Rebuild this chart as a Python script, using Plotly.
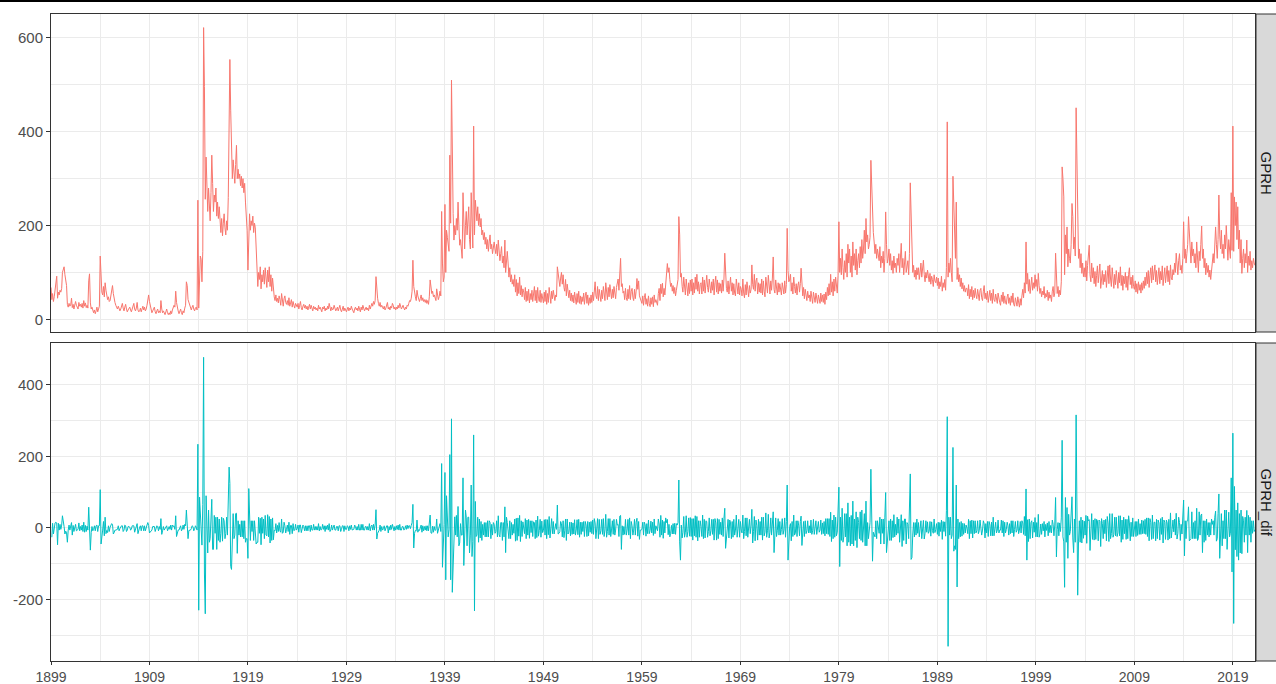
import pandas as pd
import numpy as np
import plotly.graph_objects as go
from plotly.subplots import make_subplots

# Monthly GPRH values, Jan 1899 onward
gprh_values = [
    68, 42, 55, 38, 48, 62, 78, 92, 45, 58, 52, 62,        # 1899
    58, 66, 100, 108, 112, 95, 86, 72, 32, 26, 34, 28,     # 1900
    30, 45, 25, 32, 22, 28, 38, 30, 26, 22, 36, 28,        # 1901
    32, 26, 34, 24, 40, 28, 35, 25, 30, 24, 82, 97,        # 1902
    35, 22, 26, 18, 14, 20, 12, 18, 26, 16, 22, 28,        # 1903
    135, 90, 58, 52, 70, 48, 78, 62, 55, 42, 48, 38,       # 1904
    40, 50, 62, 72, 55, 42, 36, 30, 26, 22, 28, 20,        # 1905
    18, 22, 28, 34, 24, 18, 26, 32, 22, 16, 20, 24,        # 1906
    26, 20, 16, 22, 28, 34, 22, 18, 24, 36, 20, 16,        # 1907
    18, 24, 16, 22, 28, 20, 26, 18, 22, 30, 45, 52,        # 1908
    38, 28, 20, 14, 18, 22, 26, 16, 12, 18, 22, 14,        # 1909
    18, 14, 40, 22, 14, 18, 12, 10, 16, 22, 14, 10,        # 1910
    14, 10, 18, 12, 20, 24, 30, 26, 60, 36, 24, 18,        # 1911
    12, 16, 22, 14, 10, 18, 14, 24, 30, 80, 72, 42,        # 1912
    35, 28, 22, 20, 26, 30, 22, 18, 24, 26, 20, 254,       # 1913
    24, 110, 135, 128, 80, 145, 622, 496, 256, 346, 300, 230,  # 1914
    280, 240, 210, 270, 350, 290, 230, 265, 250, 280, 220, 250,  # 1915
    215, 240, 200, 185, 215, 178, 205, 225, 195, 180, 210, 190,  # 1916
    260, 430, 554, 446, 330, 300, 340, 310, 290, 330, 371, 300,  # 1917
    320, 300, 310, 285, 305, 280, 300, 270, 290, 250, 220, 190,  # 1918
    105, 215, 225, 190, 210, 200, 220, 185, 205, 195, 150, 110,  # 1919
    70, 100, 85, 112, 65, 95, 80, 105, 75, 110, 90, 68,    # 1920
    105, 80, 112, 70, 95, 60, 88, 55, 48, 40, 52, 38,      # 1921
    45, 35, 50, 42, 30, 55, 40, 28, 44, 50, 36, 32,        # 1922
    40, 30, 46, 28, 35, 42, 26, 38, 30, 24, 34, 28,        # 1923
    26, 34, 22, 30, 38, 25, 20, 28, 32, 24, 30, 22,        # 1924
    28, 20, 26, 32, 22, 30, 24, 18, 28, 22, 26, 20,        # 1925
    24, 18, 30, 22, 26, 20, 16, 26, 22, 28, 18, 24,        # 1926
    20, 28, 22, 34, 24, 18, 26, 20, 22, 30, 24, 18,        # 1927
    22, 26, 18, 24, 30, 20, 16, 22, 28, 18, 24, 20,        # 1928
    16, 22, 26, 18, 24, 20, 28, 22, 18, 14, 22, 26,        # 1929
    20, 24, 18, 28, 22, 16, 26, 20, 30, 24, 18, 22,        # 1930
    26, 20, 24, 18, 30, 22, 26, 34, 28, 38, 32, 40,        # 1931
    91, 60, 45, 34, 28, 36, 26, 30, 24, 22, 28, 20,        # 1932
    24, 30, 36, 22, 26, 20, 28, 24, 34, 30, 22, 26,        # 1933
    20, 26, 22, 30, 24, 34, 28, 22, 26, 30, 24, 20,        # 1934
    26, 22, 30, 28, 34, 40, 38, 45, 60, 126, 70, 55,       # 1935
    48, 40, 62, 50, 45, 38, 44, 52, 40, 46, 38, 42,        # 1936
    36, 42, 34, 40, 32, 48, 84, 70, 55, 60, 48, 52,        # 1937
    45, 40, 65, 50, 42, 48, 60, 50, 230, 120, 80, 90,      # 1938
    245, 100, 190, 175, 150, 145, 350, 205, 510, 330, 226, 169,  # 1939
    200, 180, 215, 190, 250, 200, 158, 170, 150, 130, 270, 165,  # 1940
    150, 200, 230, 180, 210, 240, 170, 150, 270, 190, 152, 412,  # 1941
    180, 254, 230, 210, 240, 200, 225, 197, 215, 180, 190, 170,  # 1942
    185, 160, 175, 150, 170, 145, 165, 180, 150, 160, 140, 155,  # 1943
    165, 150, 140, 160, 135, 169, 150, 125, 140, 155, 120, 135,  # 1944
    110, 169, 100, 130, 145, 120, 90, 110, 80, 95, 75, 85,       # 1945
    70, 95, 58, 85, 50, 78, 55, 90, 52, 72, 48, 65,        # 1946
    58, 42, 68, 38, 60, 40, 64, 35, 55, 42, 62, 38,        # 1947
    55, 70, 40, 62, 35, 68, 45, 38, 62, 36, 55, 42,        # 1948
    35, 58, 38, 62, 32, 55, 36, 68, 40, 34, 60, 44,        # 1949
    62, 45, 40, 52, 48, 112, 95, 80, 70, 88, 100, 75,      # 1950
    95, 68, 60, 85, 50, 75, 58, 46, 62, 40, 56, 38,        # 1951
    52, 35, 58, 38, 32, 55, 36, 60, 34, 50, 32, 48,        # 1952
    38, 56, 32, 50, 58, 34, 52, 30, 46, 34, 52, 36,        # 1953
    58, 40, 66, 80, 50, 44, 70, 40, 64, 46, 38, 62,        # 1954
    44, 70, 46, 40, 78, 52, 42, 68, 48, 74, 50, 44,        # 1955
    64, 46, 70, 50, 44, 68, 76, 86, 62, 95, 130, 70,       # 1956
    76, 56, 60, 42, 66, 46, 40, 64, 44, 72, 42, 60,        # 1957
    66, 46, 40, 64, 44, 60, 87, 64, 82, 50, 44, 38,        # 1958
    34, 50, 30, 46, 55, 32, 44, 28, 50, 34, 27, 46,        # 1959
    32, 48, 27, 52, 36, 42, 38, 30, 55, 66, 40, 75,        # 1960
    55, 77, 48, 66, 52, 80, 95, 119, 100, 110, 85, 70,     # 1961
    77, 60, 72, 55, 68, 50, 62, 70, 85, 219, 180, 90,      # 1962
    98, 70, 58, 90, 64, 52, 86, 60, 50, 78, 55, 84,        # 1963
    60, 86, 52, 78, 56, 90, 64, 96, 60, 80, 54, 74,        # 1964
    78, 54, 90, 60, 84, 56, 76, 94, 68, 58, 86, 64,        # 1965
    56, 80, 62, 86, 52, 78, 92, 58, 84, 54, 78, 60,        # 1966
    76, 56, 84, 60, 86, 141, 84, 66, 58, 82, 54, 76,       # 1967
    90, 60, 78, 52, 76, 56, 50, 86, 60, 54, 78, 52,        # 1968
    70, 64, 50, 86, 56, 46, 74, 52, 80, 54, 48, 72,        # 1969
    56, 64, 116, 74, 64, 96, 60, 82, 88, 54, 78, 58,       # 1970
    76, 56, 86, 52, 82, 60, 48, 90, 64, 56, 94, 66,        # 1971
    54, 82, 62, 88, 133, 64, 56, 84, 60, 52, 78, 58,       # 1972
    76, 56, 52, 78, 60, 54, 82, 56, 74, 194, 104, 80,      # 1973
    84, 96, 60, 78, 54, 90, 70, 56, 76, 52, 72, 80,        # 1974
    58, 76, 109, 60, 50, 68, 44, 64, 48, 40, 60, 46,       # 1975
    52, 38, 60, 42, 34, 58, 40, 36, 56, 38, 34, 52,        # 1976
    40, 34, 56, 38, 52, 36, 54, 32, 58, 42, 68, 50,        # 1977
    76, 52, 96, 58, 80, 50, 86, 60, 90, 68, 56, 94,        # 1978
    208, 100, 130, 95, 150, 110, 85, 125, 100, 140, 90, 160,   # 1979
    120, 150, 100, 135, 90, 165, 115, 140, 105, 150, 95, 125,  # 1980
    140, 110, 155, 120, 170, 130, 150, 190, 140, 215, 165, 180,  # 1981
    150, 160, 175, 339, 290, 197, 185, 165, 140, 160, 130, 150,  # 1982
    140, 125, 155, 110, 135, 120, 145, 100, 130, 229, 160, 120,  # 1983
    130, 150, 115, 140, 105, 125, 98, 135, 110, 120, 100, 130,   # 1984
    115, 140, 100, 125, 162, 110, 130, 95, 120, 145, 100, 115,   # 1985
    125, 95, 140, 291, 203, 120, 100, 115, 90, 105, 85, 110,     # 1986
    95, 110, 85, 100, 120, 90, 105, 126, 95, 80, 100, 88,        # 1987
    105, 90, 80, 98, 75, 92, 85, 70, 95, 82, 78, 90,       # 1988
    72, 88, 65, 80, 70, 92, 60, 78, 68, 85, 62, 110,       # 1989
    421, 90, 120, 100, 130, 100, 80, 305, 240, 190, 130, 250,  # 1990
    85, 110, 80, 95, 70, 88, 65, 78, 60, 72, 58, 66,       # 1991
    66, 50, 74, 44, 64, 48, 70, 42, 62, 46, 66, 52,        # 1992
    44, 64, 48, 40, 62, 66, 46, 40, 60, 72, 44, 56,        # 1993
    42, 60, 36, 54, 62, 40, 56, 34, 64, 42, 38, 54,        # 1994
    40, 34, 56, 42, 36, 30, 52, 38, 58, 34, 50, 36,        # 1995
    32, 48, 54, 34, 46, 30, 50, 36, 56, 32, 28, 46,        # 1996
    34, 28, 48, 32, 26, 44, 30, 50, 64, 46, 78, 56,        # 1997
    165, 75, 98, 60, 85, 55, 70, 90, 62, 78, 66, 95,       # 1998
    70, 85, 60, 98, 72, 55, 66, 48, 60, 52, 70, 45,        # 1999
    55, 48, 62, 40, 58, 45, 52, 38, 60, 70, 48, 56,        # 2000
    141, 60, 55, 70, 48, 62, 52, 80, 325, 300, 261, 95,    # 2001
    180, 140, 197, 112, 150, 130, 120, 160, 247, 219, 150, 175,  # 2002
    135, 451, 357, 169, 130, 150, 110, 140, 98, 120, 91, 110,    # 2003
    90, 125, 82, 115, 135, 158, 95, 80, 120, 88, 110, 76,    # 2004
    102, 70, 94, 114, 78, 100, 118, 66, 92, 104, 74, 96,     # 2005
    80, 104, 68, 100, 114, 76, 116, 86, 70, 110, 84, 66,     # 2006
    96, 74, 104, 80, 66, 100, 78, 112, 72, 94, 62, 92,       # 2007
    76, 100, 68, 92, 62, 96, 110, 74, 90, 66, 94, 70,        # 2008
    64, 82, 58, 76, 55, 80, 62, 74, 56, 78, 62, 82,          # 2009
    66, 90, 72, 100, 76, 104, 68, 94, 110, 78, 114, 84,      # 2010
    100, 116, 80, 104, 74, 96, 110, 76, 102, 84, 114, 72,    # 2011
    94, 110, 78, 100, 114, 80, 104, 74, 116, 88, 84, 106,    # 2012
    95, 120, 100, 141, 110, 95, 125, 140, 105, 115, 98, 130, # 2013
    208, 130, 150, 120, 140, 160, 219, 183, 150, 120, 165, 135,  # 2014
    150, 120, 140, 110, 165, 130, 100, 145, 125, 160, 199, 130,  # 2015
    150, 110, 130, 95, 120, 100, 115, 90, 105, 85, 110, 120,     # 2016
    140, 120, 150, 197, 160, 130, 170, 265, 180, 150, 190, 140,  # 2017
    160, 130, 180, 150, 200, 140, 126, 170, 145, 130, 270, 147,  # 2018
    412, 145, 261, 200, 250, 170, 240, 150, 190, 120, 170, 98,   # 2019
    130, 150, 110, 140, 120, 169, 100, 135, 115, 145, 105, 125,  # 2020
    110, 130, 120, 115,                                          # 2021
]

start_month = "1899-01-01"
dates = pd.date_range(start_month, periods=len(gprh_values), freq="MS")

# first difference (GPRH_dif)
gprh_dif = [None] + list(np.diff(np.array(gprh_values, dtype=float)))

panel_labels = ["GPRH", "GPRH_dif"]
x_tick_dates = ["1899-01-01", "1909-01-01", "1919-01-01", "1929-01-01", "1939-01-01",
                "1949-01-01", "1959-01-01", "1969-01-01", "1979-01-01", "1989-01-01",
                "1999-01-01", "2009-01-01", "2019-01-01"]
x_tick_labels = ["1899", "1909", "1919", "1929", "1939", "1949", "1959",
                 "1969", "1979", "1989", "1999", "2009", "2019"]
x_minor_dates = ["1904-01-01", "1914-01-01", "1924-01-01", "1934-01-01", "1944-01-01",
                 "1954-01-01", "1964-01-01", "1974-01-01", "1984-01-01", "1994-01-01",
                 "2004-01-01", "2014-01-01"]
top_y_ticks = [0, 200, 400, 600]
top_y_labels = ["0", "200", "400", "600"]
top_y_minor = [100, 300, 500]
bot_y_ticks = [-200, 0, 200, 400]
bot_y_labels = ["-200", "0", "200", "400"]
bot_y_minor = [-300, -100, 100, 300]

W, H = 1276, 684
ML, MR, MT, MB = 51, 21, 14, 23
plot_h = H - MT - MB
gap = 11

fig = make_subplots(rows=2, cols=1, shared_xaxes=True, vertical_spacing=gap / plot_h)

fig.add_trace(go.Scatter(x=dates, y=gprh_values, mode="lines",
                         line=dict(color="#F8766D", width=1), showlegend=False,
                         hoverinfo="x+y"), row=1, col=1)
fig.add_trace(go.Scatter(x=dates, y=gprh_dif, mode="lines",
                         line=dict(color="#00BFC4", width=1), showlegend=False,
                         hoverinfo="x+y"), row=2, col=1)

font_family = "Liberation Sans, Arial, sans-serif"
grid_col = "#EBEBEB"
border_col = "#333333"
tick_font = dict(family=font_family, size=15, color="#4D4D4D")
x_tick_font = dict(family=font_family, size=14, color="#4D4D4D")

common_x = dict(range=[dates[0], dates[-1]], showgrid=True, gridcolor=grid_col, gridwidth=1,
                tickmode="array", tickvals=x_tick_dates, ticktext=x_tick_labels,
                showline=True, mirror=True, linecolor=border_col, linewidth=1,
                zeroline=False, automargin=False,
                minor=dict(tickvals=x_minor_dates, showgrid=True, gridcolor=grid_col, gridwidth=1))
fig.update_xaxes(**common_x)
fig.update_xaxes(showticklabels=False, ticks="", row=1, col=1)
fig.update_xaxes(ticks="outside", ticklen=3, tickwidth=1, tickcolor=border_col,
                 tickfont=x_tick_font, row=2, col=1)

common_y = dict(showgrid=True, gridcolor=grid_col, gridwidth=1, zeroline=False,
                showline=True, mirror=True, linecolor=border_col, linewidth=1,
                ticks="outside", ticklen=4, tickwidth=1, tickcolor=border_col,
                tickfont=tick_font, automargin=False)
fig.update_yaxes(**common_y)
fig.update_yaxes(range=[-27, 651], tickmode="array", tickvals=top_y_ticks, ticktext=top_y_labels,
                 minor=dict(tickvals=top_y_minor, showgrid=True, gridcolor=grid_col, gridwidth=1),
                 row=1, col=1)
fig.update_yaxes(range=[-372, 517], tickmode="array", tickvals=bot_y_ticks, ticktext=bot_y_labels,
                 minor=dict(tickvals=bot_y_minor, showgrid=True, gridcolor=grid_col, gridwidth=1),
                 row=2, col=1)

plot_w = W - ML - MR
strip_x0 = 1 + 1 / plot_w
strip_x1 = 1 + (MR + 2) / plot_w
top_dom = fig.layout.yaxis.domain
bot_dom = fig.layout.yaxis2.domain
for dom, label in zip([top_dom, bot_dom], panel_labels):
    fig.add_shape(type="rect", xref="paper", yref="paper",
                  x0=strip_x0, x1=strip_x1, y0=dom[0], y1=dom[1],
                  fillcolor="#D9D9D9", line=dict(color=border_col, width=1), layer="above")
    fig.add_annotation(xref="paper", yref="paper", x=1 + (MR / 2 + 1) / plot_w,
                       y=(dom[0] + dom[1]) / 2, text=label, showarrow=False,
                       textangle=90, font=dict(family=font_family, size=15, color="#1A1A1A"),
                       xanchor="center", yanchor="middle")

# thin dark band at the very top of the image
fig.add_shape(type="rect", xref="paper", yref="paper",
              x0=-ML / plot_w, x1=1 + (MR + 5) / plot_w,
              y0=1 + (MT - 2) / plot_h, y1=1 + (MT + 2) / plot_h,
              fillcolor="#000000", line=dict(width=0), layer="above")

fig.update_layout(width=W, height=H, margin=dict(l=ML, r=MR, t=MT, b=MB),
                  plot_bgcolor="white", paper_bgcolor="white",
                  font=dict(family=font_family), showlegend=False)

fig.write_html("out.html", config={"displayModeBar": False},
               post_script="document.body.style.margin='0';")
